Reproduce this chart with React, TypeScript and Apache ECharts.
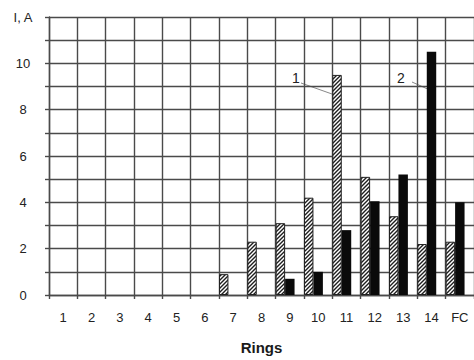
import React, { useEffect, useRef } from "react";
import * as echarts from "echarts";

const categories = ["1", "2", "3", "4", "5", "6", "7", "8", "9", "10", "11", "12", "13", "14", "FC"];
const series1 = [null, null, null, null, null, null, 0.9, 2.3, 3.1, 4.2, 9.5, 5.1, 3.4, 2.2, 2.3];
const series2 = [null, null, null, null, null, null, null, null, 0.7, 1.0, 2.8, 4.05, 5.2, 10.5, 4.0];
const spacer = categories.map(() => null);
const yTicks = [0, 2, 4, 6, 8, 10];

function makeHatch(): HTMLCanvasElement {
  const c = document.createElement("canvas");
  c.width = 4;
  c.height = 4;
  const ctx = c.getContext("2d")!;
  ctx.fillStyle = "#ffffff";
  ctx.fillRect(0, 0, 4, 4);
  ctx.strokeStyle = "#1e1e1e";
  ctx.lineWidth = 1.4;
  ctx.beginPath();
  ctx.moveTo(-1, 5);
  ctx.lineTo(5, -1);
  ctx.moveTo(-1, 1);
  ctx.lineTo(1, -1);
  ctx.moveTo(3, 5);
  ctx.lineTo(5, 3);
  ctx.stroke();
  return c;
}

export default function App() {
  const ref = useRef<HTMLDivElement>(null);
  useEffect(() => {
    const chart = echarts.init(ref.current!, null, { renderer: "svg" });
    const hatch = makeHatch();
    const gridColor = "#4a4a4a";
    const font = "'Liberation Sans', Arial, sans-serif";
    chart.setOption({
      animation: false,
      backgroundColor: "#ffffff",
      grid: { left: 49, top: 17, width: 426, height: 283, containLabel: false },
      xAxis: {
        type: "category",
        data: categories,
        boundaryGap: true,
        axisLine: { show: true, lineStyle: { color: gridColor, width: 1.4 } },
        axisTick: { show: true, length: 4, alignWithLabel: false, lineStyle: { color: gridColor, width: 1.4 } },
        splitLine: { show: true, lineStyle: { color: gridColor, width: 1.4 } },
        axisLabel: { color: "#222", fontSize: 13, fontFamily: font, margin: 16, interval: 0 },
        name: "Rings",
        nameLocation: "middle",
        nameGap: 45,
        nameTextStyle: { color: "#1a1a1a", fontSize: 15, fontWeight: "bold", fontFamily: font },
      },
      yAxis: {
        type: "value",
        min: 0,
        max: 12,
        interval: 1,
        axisLine: { show: true, lineStyle: { color: gridColor, width: 1.4 } },
        axisTick: { show: true, length: 4, lineStyle: { color: gridColor, width: 1.4 } },
        splitLine: { show: true, lineStyle: { color: gridColor, width: 1.4 } },
        axisLabel: {
          color: "#222",
          fontSize: 13,
          fontFamily: font,
          align: "center",
          margin: 26,
          formatter: (v: number) => (v === 12 ? "I, A" : yTicks.includes(v) ? String(v) : ""),
        },
      },
      series: [
        {
          type: "bar",
          data: series1,
          barGap: "0%",
          barCategoryGap: "0%",
          itemStyle: { color: { image: hatch, repeat: "repeat" }, borderColor: "#222", borderWidth: 1 },
        },
        {
          type: "bar",
          data: series2,
          barGap: "0%",
          barCategoryGap: "0%",
          itemStyle: { color: "#0a0a0a" },
        },
        {
          type: "bar",
          data: spacer,
          barGap: "0%",
          barCategoryGap: "0%",
          itemStyle: { color: "transparent" },
        },
      ],
      graphic: [
        { type: "text", x: 292, y: 71, style: { text: "1", fill: "#222", font: `14px ${font}` } },
        { type: "line", shape: { x1: 301, y1: 83, x2: 332, y2: 94 }, style: { stroke: "#888", lineWidth: 1 } },
        { type: "text", x: 397, y: 71, style: { text: "2", fill: "#222", font: `14px ${font}` } },
        { type: "line", shape: { x1: 412, y1: 82, x2: 432, y2: 91 }, style: { stroke: "#888", lineWidth: 1 } },
      ],
    });
    return () => chart.dispose();
  }, []);
  return <div ref={ref} style={{ width: 474, height: 360, position: "absolute", left: 0, top: 0 }} />;
}
